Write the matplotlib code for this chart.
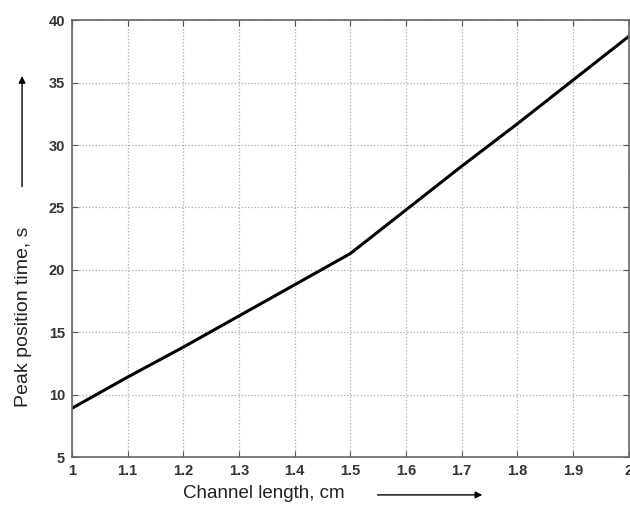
import numpy as np
import matplotlib
matplotlib.use("Agg")
import matplotlib.pyplot as plt

plt.rcParams["font.family"] = ["Liberation Sans", "DejaVu Sans"]

# channel length (cm) vs peak position time (s)
length_cm = [1.0, 1.1, 1.2, 1.3, 1.4, 1.5, 1.6, 1.7, 1.8, 1.9, 2.0]
peak_time = [8.9, 11.4, 13.8, 16.3, 18.8, 21.3, 24.8, 28.3, 31.7, 35.2, 38.7]

xticks = [1, 1.1, 1.2, 1.3, 1.4, 1.5, 1.6, 1.7, 1.8, 1.9, 2]
xticklabels = ["1", "1.1", "1.2", "1.3", "1.4", "1.5", "1.6", "1.7", "1.8", "1.9", "2"]
yticks = [5, 10, 15, 20, 25, 30, 35, 40]

fig = plt.figure(figsize=(6.3, 5.05), dpi=100)
ax = fig.add_axes([0.114, 0.095, 0.884, 0.865])

ax.plot(length_cm, peak_time, color="black", lw=2.2)

ax.set_xlim(1, 2)
ax.set_ylim(5, 40)
ax.set_xticks(xticks)
ax.set_xticklabels(xticklabels)
ax.set_yticks(yticks)
ax.grid(True, linestyle=":", color="#aaaaaa", lw=0.9)
ax.tick_params(direction="in", top=True, right=True, length=4, color="#555555",
               labelsize=10.5, pad=5)
for lab in ax.get_xticklabels() + ax.get_yticklabels():
    lab.set_fontweight("bold")
    lab.set_color("#333333")
for s in ax.spines.values():
    s.set_color("#666666")
    s.set_linewidth(1.2)

# axis labels with arrows
fig.text(0.418, 0.022, "Channel length, cm", fontsize=13.5, ha="center", va="center", color="#222222")
fig.text(0.037, 0.373, "Peak position time, s", fontsize=14, rotation=90, ha="center", va="center", color="#222222")
fig.add_artist(matplotlib.patches.FancyArrowPatch((0.595, 0.02), (0.77, 0.02),
               transform=fig.transFigure, arrowstyle="-|>", mutation_scale=10, color="black", lw=1))
fig.add_artist(matplotlib.patches.FancyArrowPatch((0.035, 0.625), (0.035, 0.855),
               transform=fig.transFigure, arrowstyle="-|>", mutation_scale=10, color="black", lw=1))

fig.savefig("out.png", dpi=100)
